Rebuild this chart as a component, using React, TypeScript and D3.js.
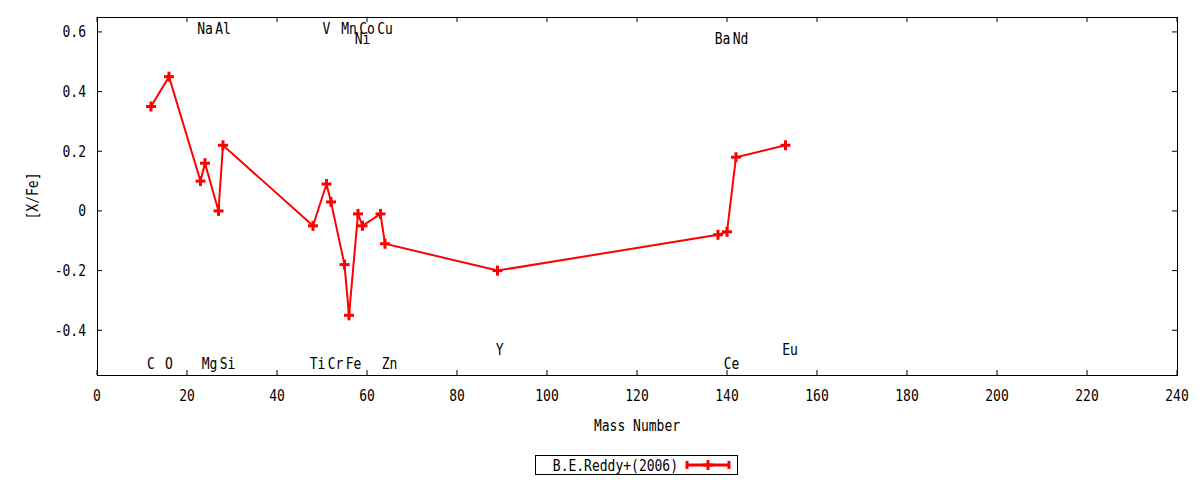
import React from "react";
import * as d3 from "d3";

// abundances, B.E.Reddy+(2006)
const massNumbers = [12, 16, 23, 24, 27, 28, 48, 51, 52, 55, 56, 58, 59, 63, 64, 89, 138, 140, 142, 153];
const xFe = [0.35, 0.45, 0.1, 0.16, 0, 0.22, -0.05, 0.09, 0.03, -0.18, -0.35, -0.01, -0.05, -0.01, -0.11, -0.2, -0.08, -0.07, 0.18, 0.22];

// element labels (placed in data coordinates)
const labelNames = ["Na", "Al", "V", "Mn", "Co", "Cu", "Ni", "Ba", "Nd", "C", "O", "Mg", "Si", "Ti", "Cr", "Fe", "Zn", "Y", "Ce", "Eu"];
const labelX = [24, 28, 51, 56, 60, 64, 59, 139, 143, 12, 16, 25, 29, 49, 53, 57, 65, 89.5, 141, 154];
const labelY = [0.61, 0.61, 0.61, 0.61, 0.61, 0.61, 0.577, 0.577, 0.577, -0.51, -0.51, -0.51, -0.51, -0.51, -0.51, -0.51, -0.51, -0.463, -0.51, -0.463];

const xTicks = d3.range(0, 241, 20);
const yTicks = [-0.4, -0.2, 0, 0.2, 0.4, 0.6];

const W = 1200;
const H = 480;
const margin = { top: 17, right: 23, bottom: 105, left: 97 };
const FONT = "'DejaVu Sans Mono', monospace";
const RED = "#ff0000";

// narrow, tall text like the gnuplot png font
const Txt: React.FC<{ x: number; y: number; anchor?: string; rotate?: number; children: React.ReactNode }> = ({
  x,
  y,
  anchor = "middle",
  rotate = 0,
  children,
}) => (
  <text
    transform={`translate(${x},${y}) rotate(${rotate}) scale(0.85,1)`}
    dy="0.36em"
    textAnchor={anchor}
    fill="#000"
  >
    {children}
  </text>
);

const App: React.FC = () => {
  const x = d3.scaleLinear().domain([0, 240]).range([margin.left, W - margin.right]);
  const y = d3.scaleLinear().domain([-0.55, 0.65]).range([H - margin.bottom, margin.top]);

  const points = massNumbers.map((m, i) => ({ m, v: xFe[i] }));
  const line = d3
    .line<{ m: number; v: number }>()
    .x((d) => x(d.m))
    .y((d) => y(d.v));

  const plus = (cx: number, cy: number, key?: React.Key) => (
    <g key={key} stroke={RED} strokeWidth={3}>
      <line x1={cx - 5} x2={cx + 5} y1={cy} y2={cy} />
      <line x1={cx} x2={cx} y1={cy - 5} y2={cy + 5} />
    </g>
  );

  const tick = 5;
  const x0 = margin.left;
  const x1 = W - margin.right;
  const y0 = H - margin.bottom;
  const y1 = margin.top;

  return (
    <svg
      width={W}
      height={H}
      style={{ position: "absolute", left: 0, top: 0, background: "#fff" }}
      fontFamily={FONT}
      fontSize={15.3}
    >
      <rect x={0} y={0} width={W} height={H} fill="#fff" />

      {/* ticks, mirrored on all sides */}
      <g stroke="#000" strokeWidth={1}>
        {xTicks.map((t) => (
          <g key={"xt" + t}>
            <line x1={x(t)} x2={x(t)} y1={y0} y2={y0 - tick} />
            <line x1={x(t)} x2={x(t)} y1={y1} y2={y1 + tick} />
          </g>
        ))}
        {yTicks.map((t) => (
          <g key={"yt" + t}>
            <line x1={x0} x2={x0 + tick} y1={y(t)} y2={y(t)} />
            <line x1={x1} x2={x1 - tick} y1={y(t)} y2={y(t)} />
          </g>
        ))}
      </g>

      {xTicks.map((t) => (
        <Txt key={"xl" + t} x={x(t)} y={y0 + 20}>
          {t}
        </Txt>
      ))}
      {yTicks.map((t) => (
        <Txt key={"yl" + t} x={x0 - 11} y={y(t)} anchor="end">
          {d3.format("~g")(t).replace("−", "-")}
        </Txt>
      ))}

      <rect x={x0 + 0.5} y={y1 + 0.5} width={x1 - x0} height={y0 - y1} fill="none" stroke="#000" strokeWidth={1} />

      {labelNames.map((n, i) => (
        <Txt key={"el" + i} x={x(labelX[i])} y={y(labelY[i])}>
          {n}
        </Txt>
      ))}

      <path d={line(points) || ""} fill="none" stroke={RED} strokeWidth={2} />
      {points.map((p, i) => plus(x(p.m), y(p.v), "p" + i))}

      <Txt x={(x0 + x1) / 2} y={425}>
        Mass Number
      </Txt>
      <Txt x={32} y={(y0 + y1) / 2} rotate={-90}>
        [X/Fe]
      </Txt>

      {/* legend */}
      <rect x={535.5} y={455.5} width={202} height={19} fill="none" stroke="#000" strokeWidth={1} />
      <Txt x={678} y={465} anchor="end">
        B.E.Reddy+(2006)
      </Txt>
      <g stroke={RED} strokeWidth={3}>
        <line x1={687} x2={729} y1={465} y2={465} />
        <line x1={687} x2={687} y1={461} y2={469} />
        <line x1={729} x2={729} y1={461} y2={469} />
      </g>
      {plus(708, 465)}
    </svg>
  );
};

export default App;
